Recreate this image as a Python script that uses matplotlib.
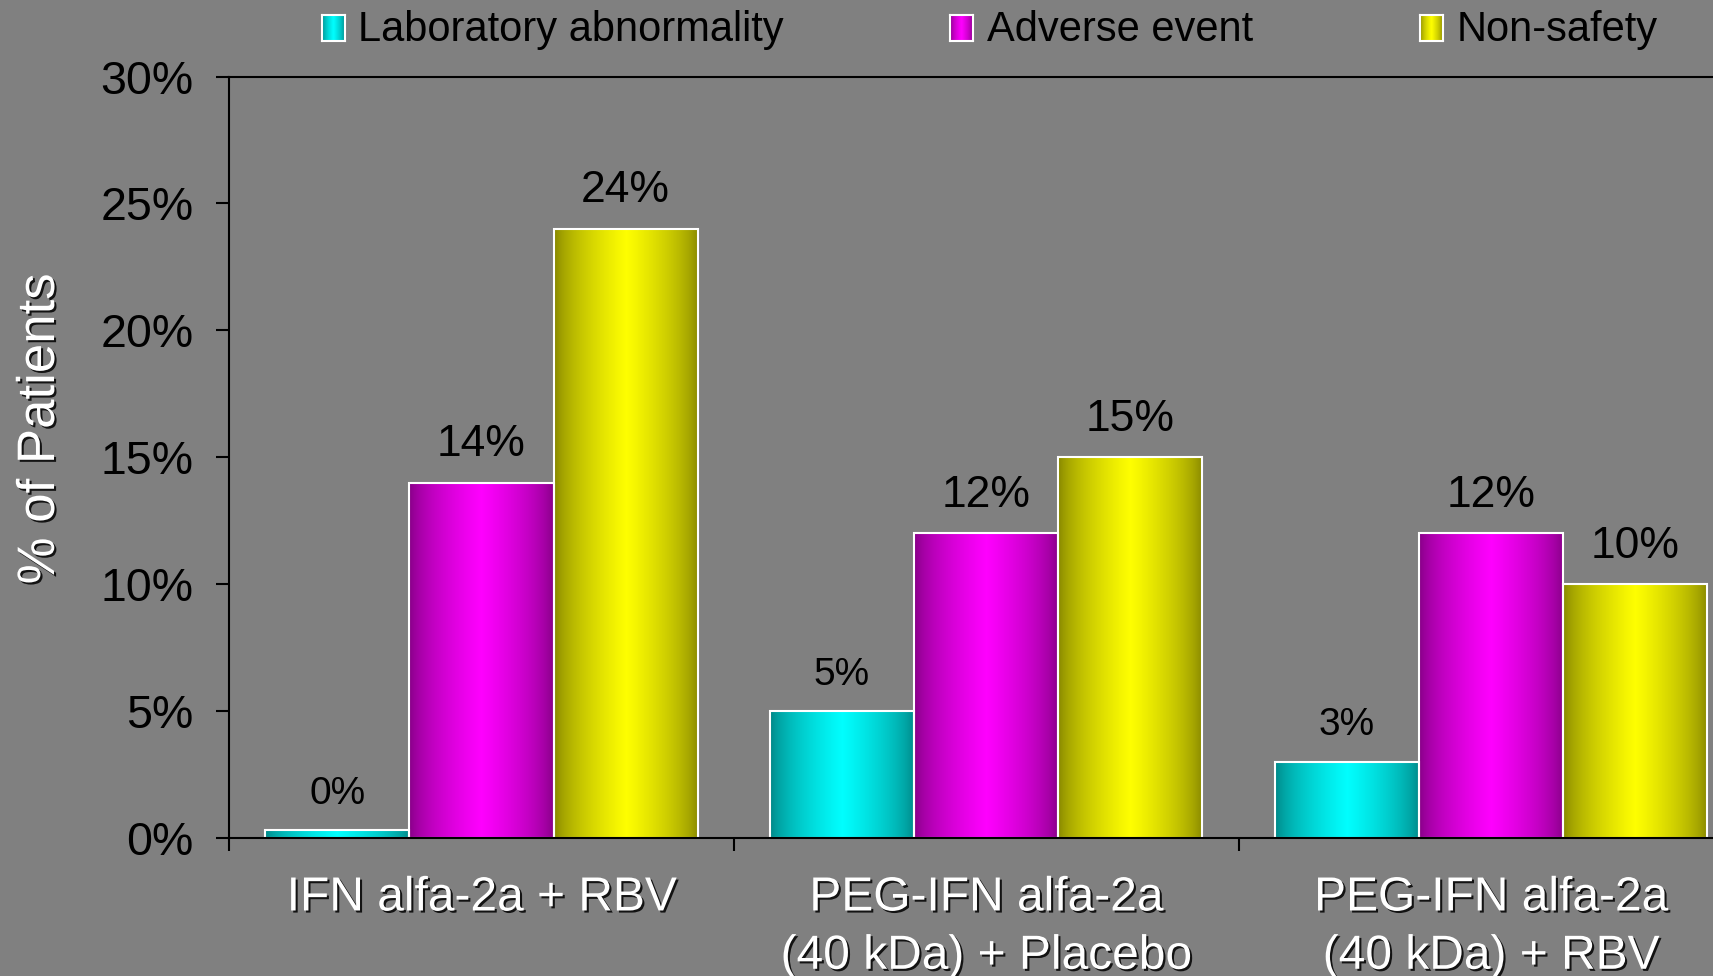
import numpy as np
import matplotlib.pyplot as plt
import matplotlib.patheffects as pe
from matplotlib.colors import to_rgb
from matplotlib.ticker import FuncFormatter

plt.rcParams['font.family'] = ['Liberation Sans', 'DejaVu Sans']

groups = ['IFN alfa-2a + RBV',
          'PEG-IFN alfa-2a\n(40 kDa) + Placebo',
          'PEG-IFN alfa-2a\n(40 kDa) + RBV']
series = ['Laboratory abnormality', 'Adverse event', 'Non-safety']
lab_abnormality = [0.3, 5, 3]
adverse_event = [14, 12, 12]
non_safety = [24, 15, 10]
values = [lab_abnormality, adverse_event, non_safety]

# edge / centre colours for the shaded bars
shades = [('#008080', '#00ffff'), ('#800080', '#ff00ff'), ('#808000', '#ffff00')]
bg = '#808080'
shadow = [pe.withSimplePatchShadow(offset=(1.5, -1.5), shadow_rgbFace='black', alpha=0.85)]


def gradient(dark, bright, n=200):
    # dark at both sides, bright in the middle
    t = np.linspace(0, 1, n)
    t = (1 - np.abs(2 * t - 1)) ** 0.6
    d = np.array(to_rgb(dark))
    b = np.array(to_rgb(bright))
    return (d + (b - d) * t[:, None])[None, :, :]


fig = plt.figure(figsize=(17.13, 9.76), dpi=100, facecolor=bg)
ax = fig.add_axes([0.1337, 0.1414, 0.8663, 0.7802])
ax.set_facecolor(bg)

width = 2 / 7
x = np.arange(len(groups))
for i, (vals, (dark, bright)) in enumerate(zip(values, shades)):
    bars = ax.bar(x + (i - 1) * width, vals, width, facecolor='none',
                  edgecolor='white', linewidth=1.5, zorder=3)
    img = gradient(dark, bright)
    for rect, v in zip(bars, vals):
        x0 = rect.get_x()
        im = ax.imshow(img, extent=(x0, x0 + width, 0, v), aspect='auto',
                       interpolation='bilinear', zorder=2)
        im.set_clip_path(rect)
        size = 32 if v >= 9.5 else 28
        ax.annotate(f'{v:.0f}%', (x0 + width / 2, v), xytext=(0, 19),
                    textcoords='offset points', ha='center', va='baseline',
                    fontsize=size, color='black')

ax.set_xlim(-0.5, 2.44)
ax.set_ylim(0, 30)
ax.set_aspect('auto')

ax.set_yticks(range(0, 31, 5))
ax.yaxis.set_major_formatter(FuncFormatter(lambda v, p: f'{v:.0f}%'))
ax.tick_params(axis='y', direction='out', length=9.5, width=1.5, pad=16,
               labelsize=33.5, colors='black')

# group separators as major ticks, group names as minor tick labels
ax.set_xticks([-0.5, 0.5, 1.5])
ax.set_xticklabels([])
ax.set_xticks(x, minor=True)
ax.set_xticklabels(groups, minor=True)
ax.tick_params(axis='x', which='major', direction='out', length=9.5, width=1.5)
ax.tick_params(axis='x', which='minor', length=0, pad=27, labelsize=34.5,
               labelcolor='white')
for lbl in ax.get_xticklabels(minor=True):
    lbl.set_path_effects(shadow)
    lbl.set_linespacing(1.38)

for side in ['left', 'bottom', 'top']:
    ax.spines[side].set_color('black')
    ax.spines[side].set_linewidth(1.5)
    ax.spines[side].set_zorder(4)
ax.spines['right'].set_visible(False)

fig.text(40 / 1713, 1 - 429 / 976, '% of Patients', rotation=90,
         ha='center', va='center', fontsize=38, color='white',
         path_effects=shadow)

# legend along the top
swatch_x = [322, 950, 1420]
text_x = [358, 987, 1457]
for name, (dark, bright), sx, tx in zip(series, shades, swatch_x, text_x):
    sw = fig.add_axes([sx / 1713, 1 - 41 / 976, 23 / 1713, 26 / 976])
    sw.imshow(gradient(dark, bright), aspect='auto', interpolation='bilinear')
    sw.set_xticks([])
    sw.set_yticks([])
    for s in sw.spines.values():
        s.set_color('white')
        s.set_linewidth(1.5)
    fig.text(tx / 1713, 1 - 30 / 976, name, ha='left', va='center',
             fontsize=30, color='black')

fig.savefig('out.png', dpi=100, facecolor=bg)
